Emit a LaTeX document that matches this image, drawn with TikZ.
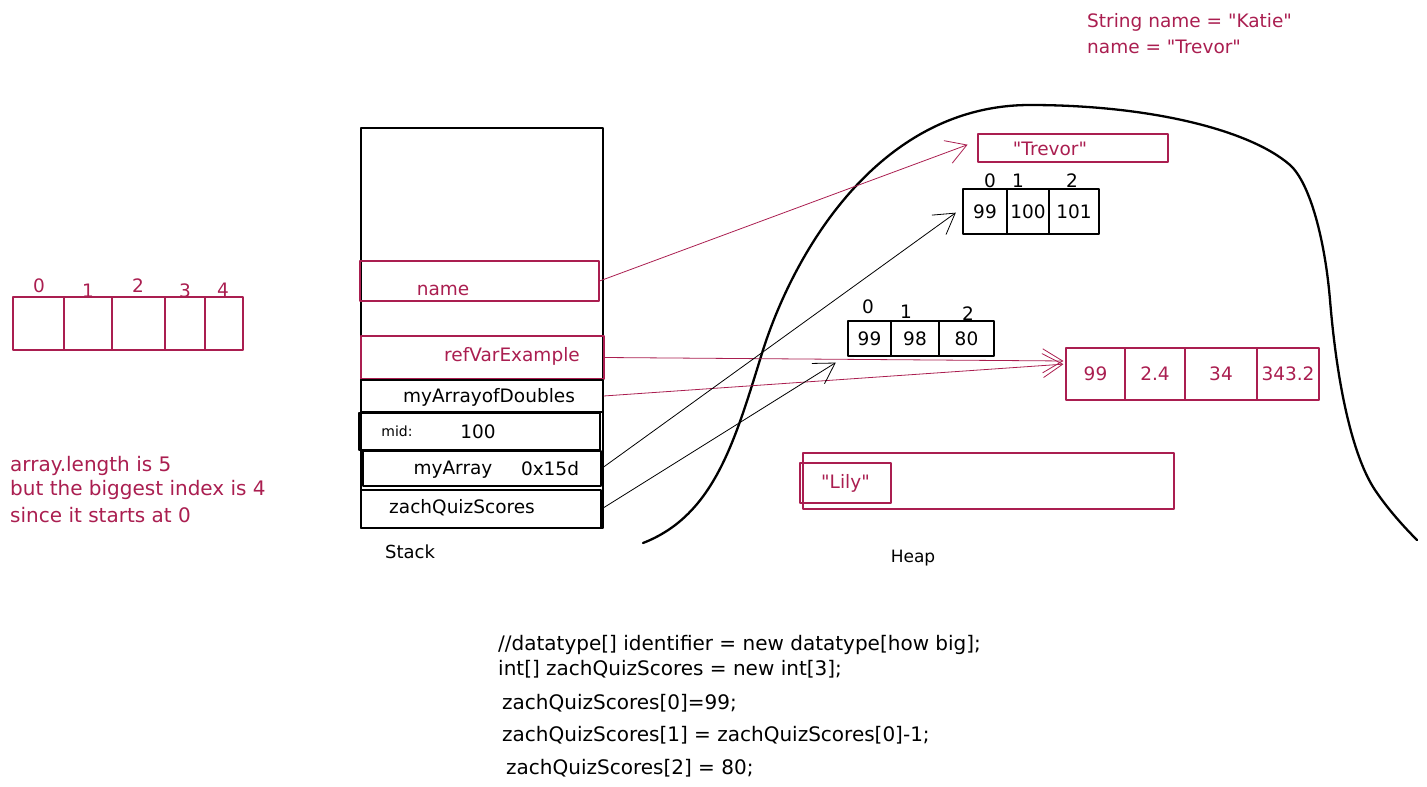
\documentclass[tikz,border=0pt]{standalone}
\usepackage{fontspec}
\setmainfont{DejaVu Sans}[Ligatures=TeXOff]
\usetikzlibrary{arrows.meta,calc}
\definecolor{crim}{RGB}{170,30,80}

\begin{document}
\begin{tikzpicture}[x=1pt,y=-1pt,line join=round]
   \useasboundingbox (0,0) rectangle (1427,787);
   \tikzstyle{txt}=[font=\fontsize{18.5}{22}\selectfont, inner sep=0]
   \tikzstyle{big}=[font=\fontsize{20}{24}\selectfont, inner sep=0]
   \tikzstyle{small}=[font=\fontsize{14}{16}\selectfont, inner sep=0]
   \tikzstyle{box}=[draw=black, line width=1.1pt, inner sep=0, rectangle]
   \tikzstyle{rbox}=[draw=crim, line width=1.1pt, inner sep=0, rectangle, text=crim]
   \tikzstyle{ptr}=[-{Straight Barb[length=20pt,width=24pt]}, line width=0.8pt, shorten >=2pt]
   % stack
   \node[box, minimum width=242, minimum height=400] (stack) at (482,328) {};
   \node[rbox, minimum width=239, minimum height=40] (name) at (479.5,281) {};
   \node[txt, text=crim] (nameLbl) at (443,290) {name};
   \node[rbox, minimum width=243, minimum height=43] (refVar) at (482.5,357.5) {};
   \node[txt, text=crim] (refVarLbl) at (512,356) {refVarExample};
   \node[box, minimum width=242, minimum height=32] (doubles) at (482,396) {};
   \node[txt] (doublesLbl) at (489,397) {myArrayofDoubles};
   \node[box, minimum width=241, minimum height=37] (mid) at (479.5,431.5) {};
   \node[small] (midLbl) at (397,431) {mid:};
   \node[txt] (midVal) at (478,432) {100};
   \node[box, minimum width=238, minimum height=35] (myArray) at (482,468.5) {};
   \node[txt] (myArrayLbl) at (453,470) {myArray};
   \node[txt] (myArrayVal) at (550,469) {0x15d};
   \node[box, minimum width=240, minimum height=38] (zach) at (481,509) {};
   \node[txt] (zachLbl) at (462,508) {zachQuizScores};
   \node[txt, font=\fontsize{18}{20}\selectfont] (stackLbl) at (410,552) {Stack};
   % heap
   \draw[line width=2.3pt, line cap=round] (643,543) .. controls (715,515) and (735,440) .. (763,350)
       .. controls (795,250) and (880,105) .. (1030,105)
       .. controls (1150,105) and (1250,130) .. (1290,165)
       .. controls (1310,183) and (1325,240) .. (1330,300)
       .. controls (1338,396) and (1355,460) .. (1375,490)
       .. controls (1388,509.5) and (1405,528) .. (1417,540);
   \node[txt, font=\fontsize{17}{20}\selectfont] (heapLbl) at (913,558) {Heap};
   \node[rbox, minimum width=190, minimum height=28] (trevor) at (1073,148) {};
   \node[txt, text=crim] (trevorLbl) at (1050,149) {"Trevor"};
   \foreach \i/\l/\r/\v in {1/963/1007/99,2/1007/1049/100,3/1049/1099/101} {
       \node[box, minimum width={\r-\l}, minimum height=45, txt] (t\i) at ({(\l+\r)/2},211.5) {\v};
   }
   \foreach \n/\x/\y in {0/990/181,1/1018/181,2/1072/181}
       \node[txt] (tIdx\n) at (\x,\y) {\n};
   \foreach \i/\l/\r/\v in {1/848/891/99,2/891/939/98,3/939/994/80} {
       \node[box, minimum width={\r-\l}, minimum height=35, txt] (z\i) at ({(\l+\r)/2},338.5) {\v};
   }
   \foreach \n/\x/\y in {0/868/307,1/906/312,2/968/314}
       \node[txt] (zIdx\n) at (\x,\y) {\n};
   \foreach \i/\l/\r/\v in {1/1066/1125/99,2/1125/1185/2.4,3/1185/1257/34,4/1257/1319/343.2} {
       \node[rbox, minimum width={\r-\l}, minimum height=52, txt] (d\i) at ({(\l+\r)/2},374) {\v};
   }
   \node[rbox, minimum width=371, minimum height=56] (lilyOuter) at (988.5,481) {};
   \node[rbox, minimum width=91, minimum height=40, txt] (lily) at (845.5,483) {"Lily"};
   % pointers
   \draw[ptr, crim] (name.east) -- ($(trevor.west)+(-8,-4)$);
   \draw[ptr, crim] (refVar.east) -- ($(d1.west)+(0,-13)$);
   \draw[ptr, crim] (doubles.east) -- ($(d1.west)+(0,-10)$);
   \draw[ptr] (myArray.east) -- ($(t1.west)+(-5,0)$);
   \draw[ptr] (zach.east) -- ($(z1.south west)+(-10,5)$);
   % left array
   \foreach \i/\l/\r in {1/13/64,2/64/112,3/112/165,4/165/205,5/205/243} {
       \node[rbox, minimum width={\r-\l}, minimum height=53] (a\i) at ({(\l+\r)/2},323.5) {};
   }
   \foreach \n/\x/\y in {0/39/286,1/88/291,2/138/286,3/185/291,4/223/290}
       \node[txt, text=crim] (aIdx\n) at (\x,\y) {\n};
   \node[big, text=crim, anchor=west] (note1) at (10,466) {array.length is 5};
   \node[big, text=crim, anchor=west] (note2) at (10,490) {but the biggest index is 4};
   \node[big, text=crim, anchor=west] (note3) at (10,515) {since it starts at 0};
   \node[txt, text=crim, anchor=west] (code1) at (1087,22) {String name = "Katie"};
   \node[txt, text=crim, anchor=west] (code2) at (1087,47) {name = "Trevor"};
   % code
   \foreach \n/\x/\y/\line in {1/498/645/{//datatype[] identifier = new datatype[how big];},
       2/498/669/{int[] zachQuizScores = new int[3];},
       3/502/703/{zachQuizScores[0]=99;},
       4/502/735/{zachQuizScores[1] = zachQuizScores[0]-1;},
       5/506/768/{zachQuizScores[2] = 80;}}
       \node[big, anchor=west] (src\n) at (\x,\y) {\line};
\end{tikzpicture}
\end{document}
